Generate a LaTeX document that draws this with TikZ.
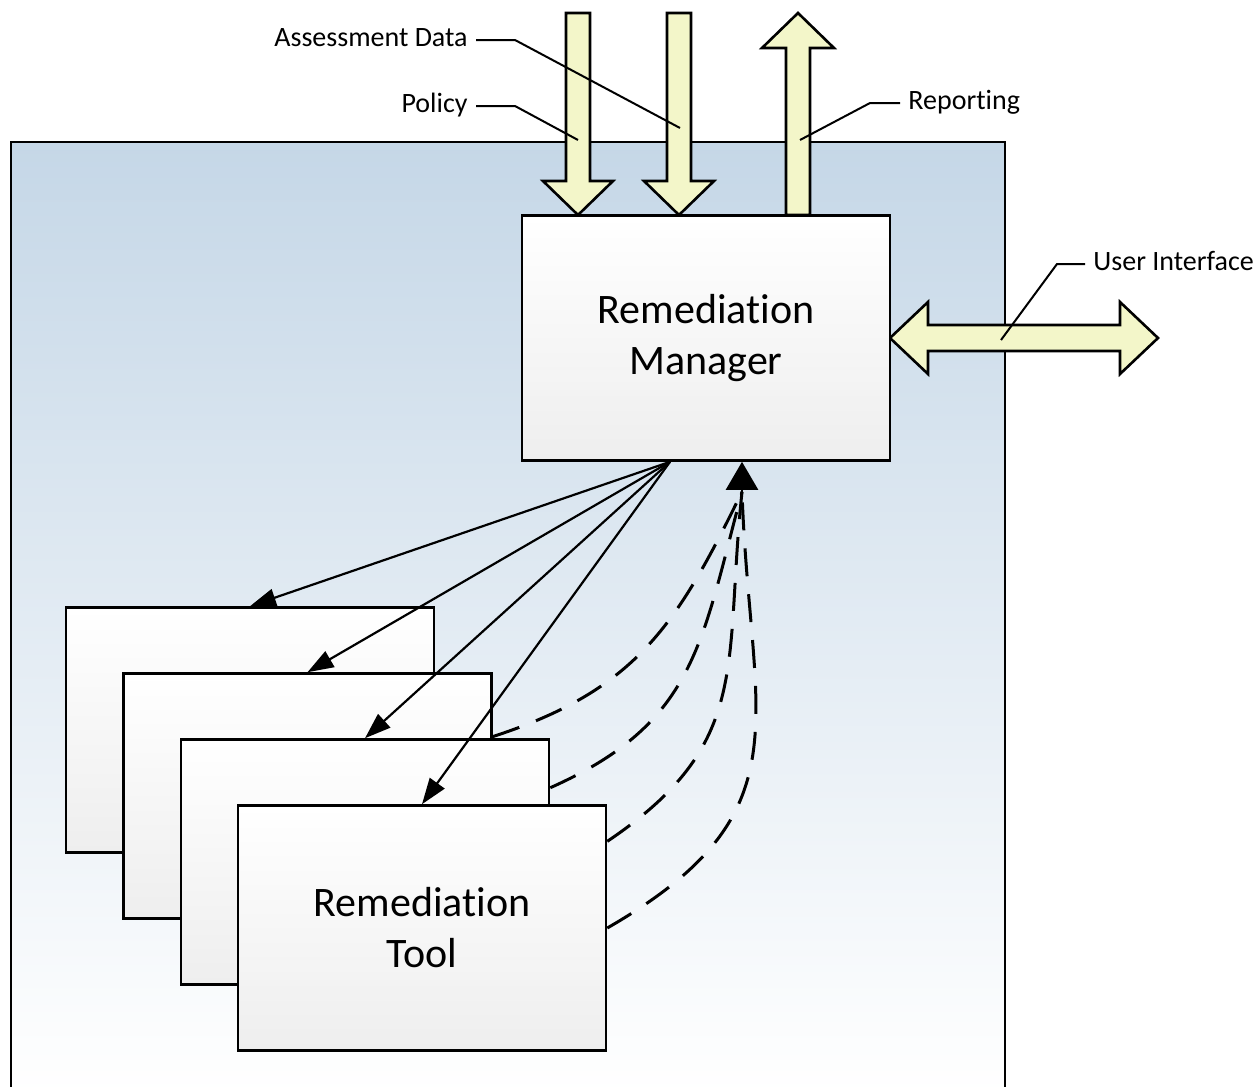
\documentclass[tikz,border=0pt]{standalone}
\usepackage{fontspec}
\setmainfont{Carlito}[Ligatures=NoCommon]
\usetikzlibrary{arrows.meta,calc,shadows}

\definecolor{panelblue}{RGB}{197,215,231}
\definecolor{flowyellow}{RGB}{243,246,201}
\definecolor{boxgray}{RGB}{238,238,238}

\begin{document}
\begin{tikzpicture}[x=0.5pt,y=0.5pt,
    box/.style={draw,line width=1.3pt,minimum width=184pt,minimum height=122.5pt,
      top color=white,bottom color=boxgray,align=center,
      font=\fontsize{21}{25.5}\selectfont,
      drop shadow={shadow xshift=0.6pt,shadow yshift=-0.8pt,opacity=0.35}},
    flow/.style={draw,line width=1.3pt,fill=flowyellow},
    lbl/.style={inner sep=4pt,font=\fontsize{14}{16}\selectfont,text height=1.4ex,text depth=0pt},
    leader/.style={line width=1pt},
    cmd/.style={line width=1.1pt,-{Triangle[length=13pt,width=9pt]}},
    fbk/.style={line width=1.5pt,dash pattern=on 14pt off 9pt}]
  \useasboundingbox (0,0) rectangle (1259,-1087);
  % host panel, open at the bottom
  \draw[line width=1.3pt,top color=panelblue,bottom color=white] (11,-1095) rectangle (1005,-142);
  % inputs and outputs
  \foreach \cx in {578,679}
    \draw[flow] ({\cx-12},-13) -- ({\cx+12},-13) -- ({\cx+12},-181) -- ({\cx+35},-181)
      -- (\cx,-215) -- ({\cx-35},-181) -- ({\cx-12},-181) -- cycle;
  \draw[flow] (786,-215) -- (786,-48) -- (762,-48) -- (798,-13) -- (834,-48)
    -- (810,-48) -- (810,-215) -- cycle;
  \draw[flow] (890,-338) -- (928,-302) -- (928,-325) -- (1120,-325) -- (1120,-302)
    -- (1158,-338) -- (1120,-374) -- (1120,-351) -- (928,-351) -- (928,-374) -- cycle;

  \node[box] (mgr) at (706,-338) {Remediation\\Manager};

  % stacked tools
  \foreach \i/\x/\y in {1/250/-730,2/307.5/-796,3/365/-862}
    \node[box] (t\i) at (\x,\y) {};
  \node[box] (t4) at (422,-928) {Remediation\\Tool};

  \coordinate (src) at ($(mgr.south)+(-36,0)$);
  \coordinate (fb) at ($(mgr.south)+(36,-30)$);
  \foreach \i in {1,...,4}
    \draw[cmd] (src) -- (t\i.north);

  % results back to the manager
  \draw[fbk] ($(t2.north east)!0.26!(t2.south east)$) to[out=18,in=-116,looseness=1.1] (fb);
  \draw[fbk] ($(t3.north east)!0.2!(t3.south east)$) to[out=24,in=-105,looseness=1.15] (fb);
  \draw[fbk] ($(t4.north east)!0.15!(t4.south east)$) to[out=34,in=-96,looseness=1.2] (fb);
  \draw[fbk] (t4.east) to[out=30,in=-88,looseness=1.3] (fb);
  \draw[line width=1.2pt,-{Triangle[length=14pt,width=16pt]}] (fb) -- (fb |- mgr.south);

  % labels
  \node[lbl,anchor=east] (ad) at (476,-40) {Assessment Data};
  \node[lbl,anchor=east] (pol) at (476,-106) {Policy};
  \node[lbl,anchor=west] (rep) at (900,-103) {Reporting};
  \node[lbl,anchor=west] (ui) at (1085,-264) {User Interface};
  \coordinate (adpt) at (680,-128);
  \coordinate (polpt) at (578,-140);
  \coordinate (reppt) at (800,-140);
  \coordinate (uipt) at (1001,-340);
  \draw[leader] (ad.east) -- ++(39,0) -- (adpt);
  \draw[leader] (pol.east) -- ++(39,0) -- (polpt);
  \draw[leader] (rep.west) -- ++(-30,0) -- (reppt);
  \draw[leader] (ui.west) -- ++(-28,0) -- (uipt);
\end{tikzpicture}
\end{document}
